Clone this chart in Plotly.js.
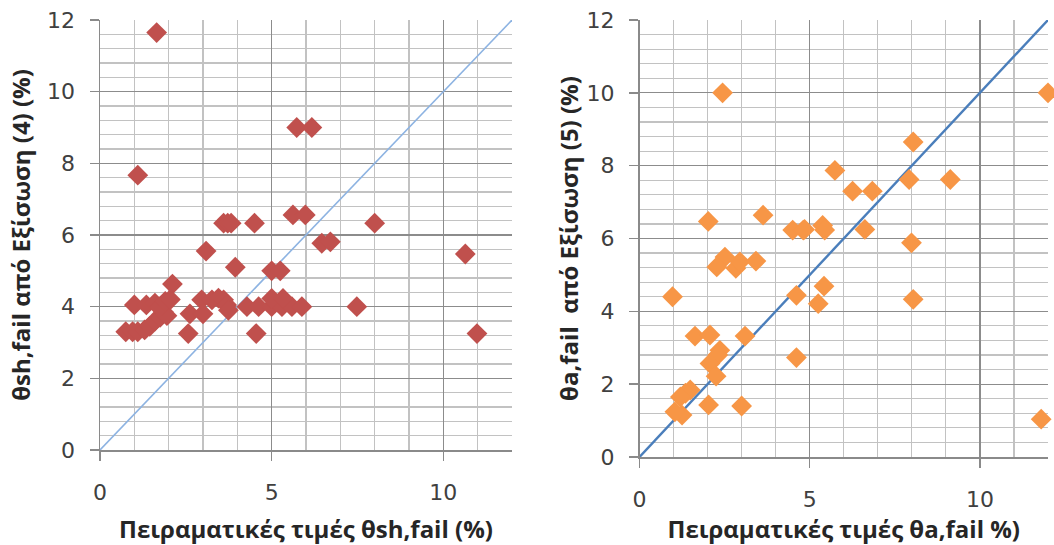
<!DOCTYPE html>
<html>
<head>
<meta charset="utf-8">
<script src="https://cdn.plot.ly/plotly-3.0.1.min.js"></script>
<style>html,body{margin:0;padding:0;background:#fff;}#chart{width:1054px;height:545px;}</style>
</head>
<body>
<div id="chart"></div>
<script>
// Left chart: experimental θsh,fail vs Eq. (4)
const leftX = [1.65, 1.1, 5.73, 6.17, 5.62, 5.98, 3.6, 3.72, 3.82, 4.5, 8.0, 6.46, 6.71, 10.64, 3.09, 3.94, 5.0, 5.25, 2.11,
  4.28, 4.62, 5.0, 5.3, 5.59, 5.88, 5.0, 5.33, 7.48, 10.98, 4.55, 2.57, 2.62, 2.96, 3.0, 3.26, 3.45, 3.6, 3.69, 3.74,
  0.75, 0.95, 1.1, 1.3, 1.45, 1.6, 1.75, 1.85, 1.95, 1.0, 1.35, 1.6, 1.75, 1.9, 2.05];
const leftY = [11.65, 7.67, 9.0, 9.0, 6.56, 6.56, 6.33, 6.33, 6.33, 6.33, 6.33, 5.77, 5.81, 5.47, 5.55, 5.10, 5.0, 5.0, 4.63,
  4.0, 4.0, 4.0, 4.0, 4.0, 4.0, 4.23, 4.23, 4.0, 3.25, 3.25, 3.25, 3.8, 4.19, 3.8, 4.19, 4.24, 4.19, 4.05, 3.9,
  3.3, 3.3, 3.3, 3.35, 3.45, 3.6, 3.7, 3.85, 3.75, 4.05, 4.05, 4.1, 4.0, 4.15, 4.2];

// Right chart: experimental θa,fail vs Eq. (5)
const rightX = [2.44, 12.0, 8.04, 5.74, 7.92, 9.13, 6.26, 6.84, 2.02, 3.63, 4.5, 4.81, 4.85, 5.38, 5.44, 6.62, 7.99,
  2.51, 2.27, 2.83, 2.95, 3.42, 0.97, 4.61, 5.42, 5.25, 8.04, 1.63, 2.07, 3.1, 2.36, 2.3, 2.07, 2.25, 4.61,
  1.49, 1.35, 1.2, 1.25, 1.04, 2.03, 3.0, 11.8];
const rightY = [10.0, 10.0, 8.65, 7.87, 7.62, 7.62, 7.30, 7.30, 6.47, 6.64, 6.23, 6.23, 6.25, 6.36, 6.23, 6.25, 5.88,
  5.49, 5.22, 5.18, 5.36, 5.38, 4.40, 4.44, 4.69, 4.21, 4.33, 3.32, 3.35, 3.32, 2.93, 2.8, 2.57, 2.22, 2.73,
  1.84, 1.75, 1.65, 1.15, 1.24, 1.43, 1.40, 1.04];

// 1:1 reference line
const diagX = [0, 12];
const diagY = [0, 12];

const xTickVals = [0, 5, 10];
const yTickVals = [0, 2, 4, 6, 8, 10, 12];

const leftXTitle = 'Πειραματικές τιμές θsh,fail (%)';
const leftYTitle = 'θsh,fail από Εξίσωση (4) (%)';
const rightXTitle = 'Πειραματικές τιμές θa,fail %)';
const rightYTitle = 'θa,fail  από Εξίσωση (5) (%)';

const tickFont = {family: 'DejaVu Sans, sans-serif', size: 22, color: '#404040'};
const titleFont = {family: '"Open Sans", "Noto Sans", sans-serif', size: 24, color: '#262626', weight: 'bold'};

function xAxis(domain, anchor, title) {
  return {
    domain: domain, anchor: anchor, range: [0, 12], tickmode: 'array', tickvals: xTickVals,
    ticks: 'outside', ticklen: 9, tickwidth: 1.5, tickcolor: '#8a8a8a', ticklabelstandoff: 13,
    showline: true, linecolor: '#8a8a8a', linewidth: 1.5, zeroline: false,
    showgrid: true, gridcolor: '#8c8c8c', gridwidth: 1.2,
    minor: {dtick: 1, tick0: 0, showgrid: true, gridcolor: '#c2c2c2', gridwidth: 1.2, ticks: ''},
    tickfont: tickFont, title: {text: title, font: titleFont, standoff: 22}, fixedrange: true
  };
}
function yAxis(domain, anchor, title, standoff) {
  return {
    domain: domain, anchor: anchor, range: [0, 12], tickmode: 'array', tickvals: yTickVals,
    ticks: 'outside', ticklen: 9, tickwidth: 1.5, tickcolor: '#8a8a8a', ticklabelstandoff: 10,
    showline: true, linecolor: '#8a8a8a', linewidth: 1.5, zeroline: false,
    showgrid: true, gridcolor: '#8c8c8c', gridwidth: 1.2,
    minor: {dtick: 0.4, tick0: 0, showgrid: true, gridcolor: '#c2c2c2', gridwidth: 1.2, ticks: ''},
    tickfont: tickFont, title: {text: title, font: titleFont, standoff: standoff}, fixedrange: true
  };
}

const traces = [
  {x: diagX, y: diagY, xaxis: 'x', yaxis: 'y', mode: 'lines', type: 'scatter',
   line: {color: '#8db3e2', width: 1.6}, hoverinfo: 'skip', showlegend: false},
  {x: leftX, y: leftY, xaxis: 'x', yaxis: 'y', mode: 'markers', type: 'scatter', cliponaxis: false,
   marker: {symbol: 'diamond', size: 16, color: '#C0504D', line: {width: 0}}, showlegend: false},
  {x: diagX, y: diagY, xaxis: 'x2', yaxis: 'y2', mode: 'lines', type: 'scatter',
   line: {color: '#4a7ebb', width: 2.4}, hoverinfo: 'skip', showlegend: false},
  {x: rightX, y: rightY, xaxis: 'x2', yaxis: 'y2', mode: 'markers', type: 'scatter', cliponaxis: false,
   marker: {symbol: 'diamond', size: 16, color: '#F79646', line: {width: 0}}, showlegend: false}
];

const layout = {
  width: 1054, height: 545,
  margin: {l: 0, r: 0, t: 0, b: 0},
  paper_bgcolor: '#ffffff', plot_bgcolor: '#ffffff',
  showlegend: false,
  xaxis: xAxis([100/1054, 512/1054], 'y', leftXTitle),
  yaxis: yAxis([95/545, 525/545], 'x', leftYTitle, 9),
  xaxis2: xAxis([639.5/1054, 1048/1054], 'y2', rightXTitle),
  yaxis2: yAxis([88/545, 525/545], 'x2', rightYTitle, 1)
};

Plotly.newPlot('chart', traces, layout, {staticPlot: true, displayModeBar: false});
</script>
</body>
</html>
